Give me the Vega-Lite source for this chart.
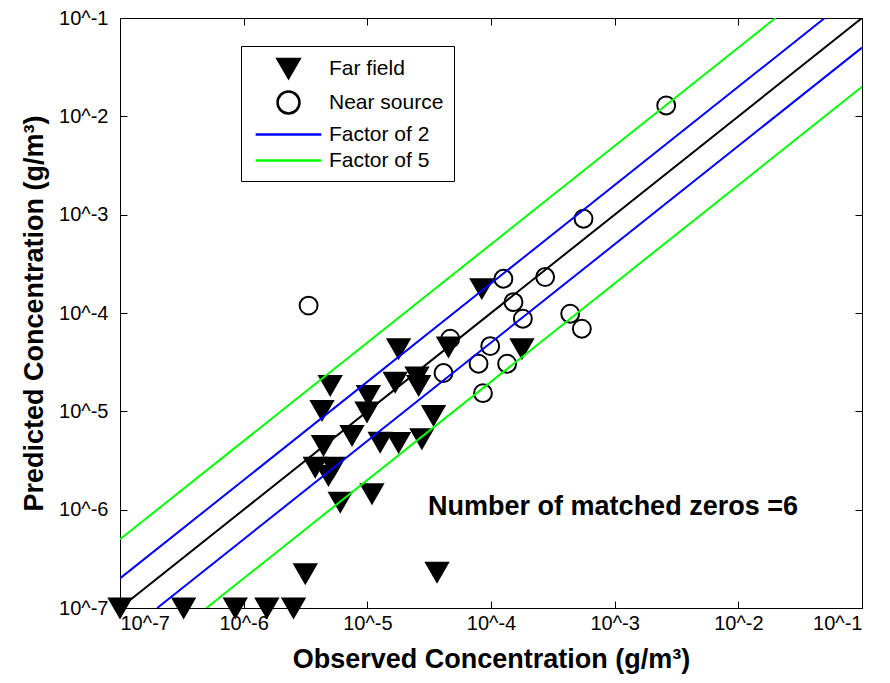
{
  "$schema": "https://vega.github.io/schema/vega-lite/v6.json",
  "width": 742,
  "height": 590,
  "autosize": {"type": "none"},
  "padding": {"left": 120, "top": 18, "right": 28, "bottom": 75},
  "background": "white",
  "config": {
    "view": {"stroke": "black", "strokeWidth": 1},
    "font": "Liberation Sans",
    "axis": {
      "domainColor": "black", "tickColor": "black", "labelColor": "black", "titleColor": "black",
      "grid": false, "tickSize": -7, "labelFontSize": 20, "labelFont": "Liberation Sans",
      "titleFont": "Liberation Sans", "titleFontSize": 27, "titleFontWeight": "bold",
      "domainWidth": 1, "tickWidth": 1
    }
  },
  "datasets": {
    "points": [
      {"series": "Far field", "observed": 1e-7, "predicted": 1e-7},
      {"series": "Far field", "observed": 3.27e-7, "predicted": 1e-7},
      {"series": "Far field", "observed": 8.55e-7, "predicted": 1e-7},
      {"series": "Far field", "observed": 1.54e-6, "predicted": 1e-7},
      {"series": "Far field", "observed": 2.53e-6, "predicted": 1e-7},
      {"series": "Far field", "observed": 3.15e-6, "predicted": 2.23e-7},
      {"series": "Far field", "observed": 3.66e-5, "predicted": 2.31e-7},
      {"series": "Far field", "observed": 6.04e-6, "predicted": 1.19e-6},
      {"series": "Far field", "observed": 1.09e-5, "predicted": 1.45e-6},
      {"series": "Far field", "observed": 3.79e-6, "predicted": 2.70e-6},
      {"series": "Far field", "observed": 5.33e-6, "predicted": 2.70e-6},
      {"series": "Far field", "observed": 4.85e-6, "predicted": 2.23e-6},
      {"series": "Far field", "observed": 4.42e-6, "predicted": 4.50e-6},
      {"series": "Far field", "observed": 7.52e-6, "predicted": 5.69e-6},
      {"series": "Far field", "observed": 1.27e-5, "predicted": 4.86e-6},
      {"series": "Far field", "observed": 1.79e-5, "predicted": 4.83e-6},
      {"series": "Far field", "observed": 2.76e-5, "predicted": 5.26e-6},
      {"series": "Far field", "observed": 3.43e-5, "predicted": 9.08e-6},
      {"series": "Far field", "observed": 4.30e-6, "predicted": 1.02e-5},
      {"series": "Far field", "observed": 9.93e-6, "predicted": 9.82e-6},
      {"series": "Far field", "observed": 5.01e-6, "predicted": 1.83e-5},
      {"series": "Far field", "observed": 1.02e-5, "predicted": 1.45e-5},
      {"series": "Far field", "observed": 1.68e-5, "predicted": 1.98e-5},
      {"series": "Far field", "observed": 2.52e-5, "predicted": 2.23e-5},
      {"series": "Far field", "observed": 2.60e-5, "predicted": 1.83e-5},
      {"series": "Far field", "observed": 1.79e-5, "predicted": 4.34e-5},
      {"series": "Far field", "observed": 4.53e-5, "predicted": 4.50e-5},
      {"series": "Far field", "observed": 1.78e-4, "predicted": 4.34e-5},
      {"series": "Far field", "observed": 8.43e-5, "predicted": 1.77e-4},
      {"series": "Near source", "observed": 2.61e-3, "predicted": 1.29e-2},
      {"series": "Near source", "observed": 5.60e-4, "predicted": 9.10e-4},
      {"series": "Near source", "observed": 1.26e-4, "predicted": 2.23e-4},
      {"series": "Near source", "observed": 2.74e-4, "predicted": 2.32e-4},
      {"series": "Near source", "observed": 1.52e-4, "predicted": 1.29e-4},
      {"series": "Near source", "observed": 1.81e-4, "predicted": 8.75e-5},
      {"series": "Near source", "observed": 4.37e-4, "predicted": 9.84e-5},
      {"series": "Near source", "observed": 5.43e-4, "predicted": 6.92e-5},
      {"series": "Near source", "observed": 4.68e-5, "predicted": 5.48e-5},
      {"series": "Near source", "observed": 9.86e-5, "predicted": 4.61e-5},
      {"series": "Near source", "observed": 7.93e-5, "predicted": 3.05e-5},
      {"series": "Near source", "observed": 1.35e-4, "predicted": 3.05e-5},
      {"series": "Near source", "observed": 4.13e-5, "predicted": 2.45e-5},
      {"series": "Near source", "observed": 8.61e-5, "predicted": 1.53e-5},
      {"series": "Near source", "observed": 3.35e-6, "predicted": 1.19e-4}
    ],
    "lines": [
      {"id": "one", "group": "1:1", "observed": 1e-7, "predicted": 1e-7},
      {"id": "one", "group": "1:1", "observed": 1e-1, "predicted": 1e-1},
      {"id": "f2u", "group": "Factor of 2", "observed": 1e-7, "predicted": 2e-7},
      {"id": "f2u", "group": "Factor of 2", "observed": 5e-2, "predicted": 1e-1},
      {"id": "f2l", "group": "Factor of 2", "observed": 2e-7, "predicted": 1e-7},
      {"id": "f2l", "group": "Factor of 2", "observed": 1e-1, "predicted": 5e-2},
      {"id": "f5u", "group": "Factor of 5", "observed": 1e-7, "predicted": 5e-7},
      {"id": "f5u", "group": "Factor of 5", "observed": 2e-2, "predicted": 1e-1},
      {"id": "f5l", "group": "Factor of 5", "observed": 5e-7, "predicted": 1e-7},
      {"id": "f5l", "group": "Factor of 5", "observed": 1e-1, "predicted": 2e-2}
    ],
    "note": [
      {"label": "Number of matched zeros =6", "observed": 3.1e-5, "predicted": 1.06e-6}
    ]
  },
  "resolve": {"axis": {"x": "independent", "y": "independent"}},
  "layer": [
    {
      "data": {"name": "points"},
      "mark": {"type": "point", "opacity": 1, "strokeWidth": 2, "clip": false},
      "encoding": {
        "x": {"field": "observed", "type": "quantitative",
              "scale": {"type": "log", "domain": [1e-7, 1e-1], "nice": false},
              "axis": {"orient": "top", "labels": false, "title": null,
                       "values": [1e-7, 1e-6, 1e-5, 1e-4, 1e-3, 1e-2, 1e-1]}},
        "y": {"field": "predicted", "type": "quantitative",
              "scale": {"type": "log", "domain": [1e-7, 1e-1], "nice": false},
              "axis": {"orient": "right", "labels": false, "title": null,
                       "values": [1e-7, 1e-6, 1e-5, 1e-4, 1e-3, 1e-2, 1e-1]}},
        "shape": {"field": "series", "type": "nominal",
                  "scale": {"domain": ["Far field", "Near source", "Factor of 2", "Factor of 5"],
                            "range": ["triangle-down", "circle", "M-3,0L3,0", "M-3,0L3,0"]},
                  "legend": {
                    "title": null, "orient": "none", "legendX": 121, "legendY": 28,
                    "padding": 10, "strokeColor": "black", "fillColor": "white",
                    "labelFontSize": 21, "labelFont": "Liberation Sans", "labelColor": "black",
                    "symbolSize": 480, "symbolOffset": 25, "labelOffset": 28, "rowPadding": 3,
                    "symbolStrokeWidth": 2.5,
                    "encode": {"symbols": {"update": {
                      "strokeWidth": {"value": 2.5},
                      "size": {"signal": "datum.value === 'Near source' ? 320 : 480"},
                      "opacity": {"value": 1}
                    }}}
                  }},
        "fill": {"field": "series", "type": "nominal",
                 "scale": {"domain": ["Far field", "Near source", "Factor of 2", "Factor of 5"],
                           "range": ["black", "transparent", "transparent", "transparent"]}},
        "stroke": {"field": "series", "type": "nominal",
                   "scale": {"domain": ["Far field", "Near source", "Factor of 2", "Factor of 5"],
                             "range": ["black", "black", "#0000ff", "#00ff00"]}},
        "size": {"condition": {"test": "datum.series === 'Near source'", "value": 320}, "value": 480}
      }
    },
    {
      "data": {"name": "lines"},
      "mark": {"type": "line", "strokeWidth": 2, "clip": true},
      "encoding": {
        "x": {"field": "observed", "type": "quantitative",
              "scale": {"type": "log", "domain": [1e-7, 1e-1], "nice": false},
              "axis": {"orient": "bottom", "title": "Observed Concentration (g/m³)",
                       "values": [1e-7, 1e-6, 1e-5, 1e-4, 1e-3, 1e-2, 1e-1],
                       "labelExpr": "'10^' + round(log(datum.value)/LN10)",
                       "labelPadding": 12, "titlePadding": 13}},
        "y": {"field": "predicted", "type": "quantitative",
              "scale": {"type": "log", "domain": [1e-7, 1e-1], "nice": false},
              "axis": {"orient": "left", "title": "Predicted Concentration (g/m³)",
                       "values": [1e-7, 1e-6, 1e-5, 1e-4, 1e-3, 1e-2, 1e-1],
                       "labelExpr": "'10^' + round(log(datum.value)/LN10)",
                       "labelPadding": 19, "titlePadding": 10}},
        "color": {"field": "group", "type": "nominal",
                  "scale": {"domain": ["1:1", "Factor of 2", "Factor of 5"], "range": ["black", "#0000ff", "#00ff00"]},
                  "legend": null},
        "detail": {"field": "id"}
      }
    },
    {
      "data": {"name": "note"},
      "mark": {"type": "text", "align": "left", "baseline": "middle", "fontSize": 27, "fontWeight": "bold", "font": "Liberation Sans", "color": "black"},
      "encoding": {
        "x": {"field": "observed", "type": "quantitative", "scale": {"type": "log", "domain": [1e-7, 1e-1], "nice": false}, "axis": null},
        "y": {"field": "predicted", "type": "quantitative", "scale": {"type": "log", "domain": [1e-7, 1e-1], "nice": false}, "axis": null},
        "text": {"field": "label"}
      }
    }
  ]
}
